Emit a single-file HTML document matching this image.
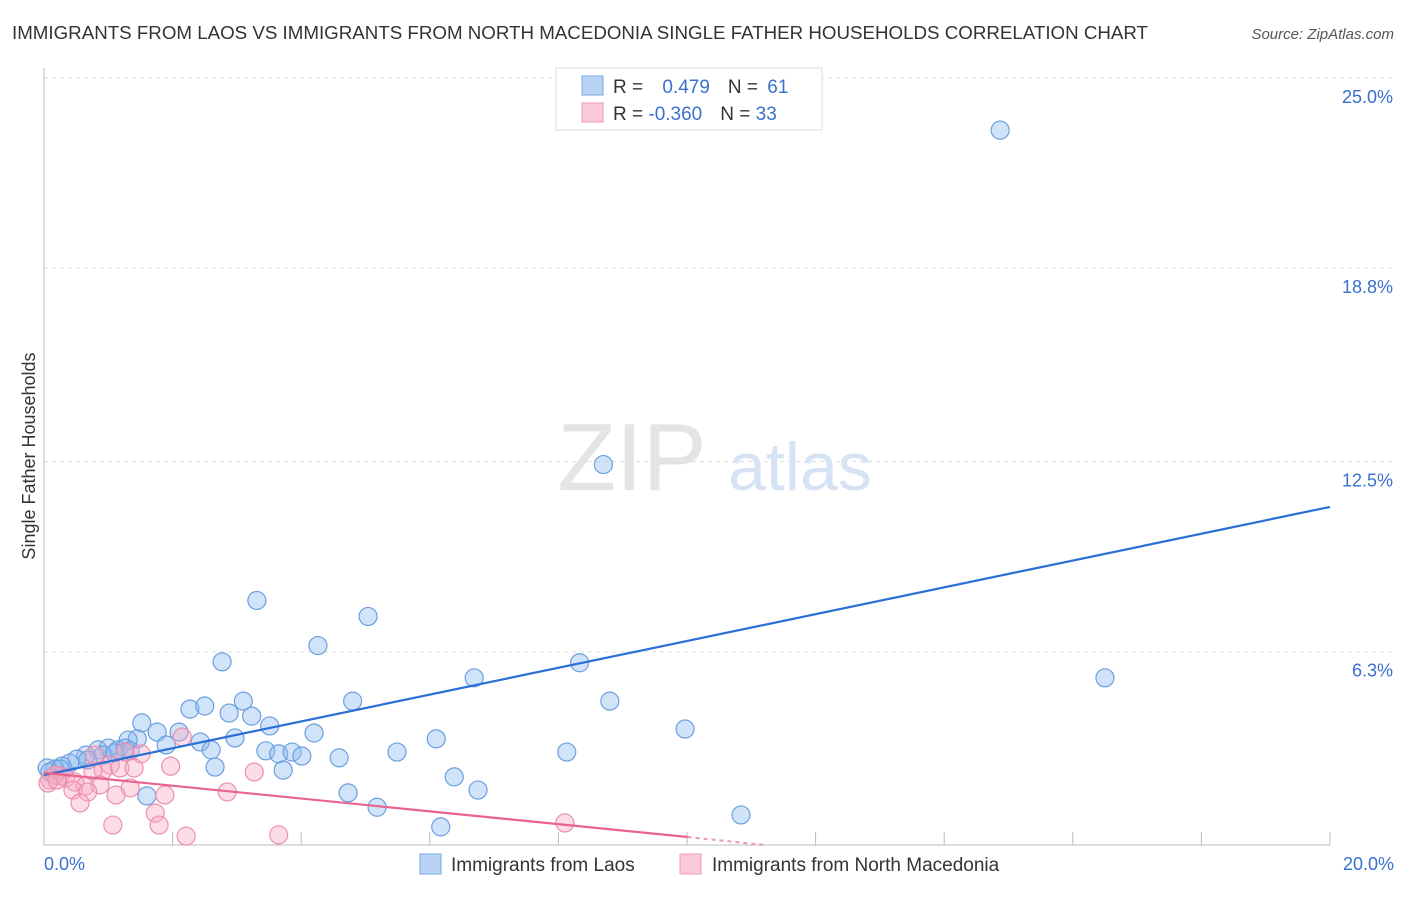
<!DOCTYPE html>
<html><head><meta charset="utf-8"><style>
body{margin:0;background:#fff;font-family:"Liberation Sans",sans-serif;}
svg text{font-family:"Liberation Sans",sans-serif;}
</style></head><body>
<svg width="1406" height="892">
<text x="12" y="39" font-size="18" fill="#333" textLength="1136" lengthAdjust="spacingAndGlyphs">IMMIGRANTS FROM LAOS VS IMMIGRANTS FROM NORTH MACEDONIA SINGLE FATHER HOUSEHOLDS CORRELATION CHART</text>
<text x="1394" y="39" font-size="15" fill="#555" font-style="italic" text-anchor="end">Source: ZipAtlas.com</text>
<g id="grid"></g>
<text x="632" y="490" font-size="96" fill="#e4e4e4" font-family="Liberation Serif" text-anchor="middle">ZIP</text>
<text x="800" y="490" font-size="68" fill="#d6e3f5" text-anchor="middle">atlas</text>
<g id="pts"></g>
<g id="lines"></g>
<text x="35" y="456" font-size="18" fill="#333" transform="rotate(-90 35 456)" text-anchor="middle">Single Father Households</text>
<text x="44" y="870" font-size="18" fill="#3a70d0">0.0%</text>
<text x="1394" y="870" font-size="18" fill="#3a70d0" text-anchor="end">20.0%</text>
<g>
<rect x="556" y="68" width="266" height="62" fill="#fff" stroke="#ddd"/>
<rect x="582" y="76" width="21" height="19" fill="#b9d3f5" stroke="#7aa7e6"/>
<rect x="582" y="103" width="21" height="19" fill="#fcc9d8" stroke="#ef9ab5"/>
<text x="613" y="93" font-size="19" fill="#333">R = <tspan fill="#3a70d0" dx="14">0.479</tspan><tspan dx="18" fill="#333">N = </tspan><tspan fill="#3a70d0" dx="4">61</tspan></text>
<text x="613" y="120" font-size="19" fill="#333">R = <tspan fill="#3a70d0" dx="0">-0.360</tspan><tspan dx="18" fill="#333">N = </tspan><tspan fill="#3a70d0">33</tspan></text>
</g>
<g>
<rect x="420" y="854" width="21" height="20" fill="#b9d3f5" stroke="#7aa7e6"/>
<text x="451" y="871" font-size="19" fill="#333">Immigrants from Laos</text>
<rect x="680" y="854" width="21" height="20" fill="#fcc9d8" stroke="#ef9ab5"/>
<text x="712" y="871" font-size="19" fill="#333">Immigrants from North Macedonia</text>
</g>
</svg>
<script>
const yTicks=[25,18.8,12.5,6.3];
const yTickLabels=["25.0%","18.8%","12.5%","6.3%"];
const blueX=[14.87,8.7,3.31,5.04,4.26,2.77,8.33,6.69,16.5,3.1,4.8,8.8,2.27,2.5,2.88,3.23,1.52,9.97,1.76,2.1,3.51,4.2,6.1,2.97,1.45,1.31,1.9,2.43,2.6,3.45,3.65,3.86,4.01,4.59,5.49,8.13,0.84,1.0,1.15,1.26,0.65,0.51,0.4,0.28,0.17,0.05,2.66,3.72,6.38,6.75,4.73,1.6,5.18,6.17,10.84,0.09,0.25,0.92,0.68,1.34,1.1];
const blueY=[23.3,12.4,7.97,7.45,6.5,5.97,5.94,5.45,5.45,4.69,4.69,4.69,4.43,4.53,4.3,4.2,3.98,3.78,3.68,3.68,3.88,3.65,3.46,3.49,3.46,3.42,3.26,3.36,3.1,3.07,2.97,3.03,2.9,2.84,3.03,3.03,3.1,3.16,3.1,3.16,2.93,2.8,2.67,2.57,2.48,2.51,2.54,2.44,2.22,1.79,1.7,1.6,1.23,0.59,0.98,2.38,2.48,2.93,2.77,3.07,3.0];
const pinkX=[2.15,1.51,0.79,1.26,1.03,0.92,1.97,1.18,1.4,0.76,3.27,0.25,0.34,0.48,0.09,0.17,0.64,0.87,1.34,0.45,0.68,1.12,1.88,2.85,0.56,1.73,1.07,1.79,2.21,3.65,8.1,0.06,0.2];
const pinkY=[3.52,2.97,2.93,3.03,2.61,2.44,2.57,2.51,2.51,2.41,2.38,2.25,2.18,2.05,2.12,2.28,1.92,1.96,1.86,1.79,1.73,1.63,1.63,1.73,1.37,1.04,0.65,0.65,0.29,0.33,0.72,2.02,2.12];
const blueLine=[[0,2.28],[20,11.02]];
const pinkLine=[[0,2.35],[10.01,0.26]];
const pinkDash=[[10.01,0.26],[11.2,0]];
const sx=v=>44+v/20*1286, sy=v=>845-v/25*767;
const NS="http://www.w3.org/2000/svg";
function mk(t,a,p){const e=document.createElementNS(NS,t);for(const k in a)e.setAttribute(k,a[k]);p.appendChild(e);return e;}
const g=document.getElementById('grid');
yTicks.forEach((t,i)=>{
 const l=mk('line',{x1:44,x2:1394,y1:sy(t),y2:sy(t),stroke:'#ddd','stroke-dasharray':'4,4'},g);
 
 
 const tx=mk('text',{x:1393,y:sy(t)+25,'font-size':18,fill:'#3a70d0','text-anchor':'end'},g);
 tx.textContent=yTickLabels[i];
 
 
});
const ax=mk('path',{d:'M44 68 V845 H1330',stroke:'#bbb',fill:'none'},g);


for(let i=1;i<=10;i++){
 const t=mk('line',{x1:sx(i*2),x2:sx(i*2),y1:832,y2:845,stroke:'#bbb'},g);
 
 
}
const p=document.getElementById('pts');
blueX.forEach((x,i)=>{
 const c=mk('circle',{cx:sx(x),cy:sy(blueY[i]),r:9,fill:'rgba(140,185,240,0.4)',stroke:'#6a9fe0','stroke-width':1.2},p);
 
 
});
pinkX.forEach((x,i)=>{
 const c=mk('circle',{cx:sx(x),cy:sy(pinkY[i]),r:9,fill:'rgba(248,170,195,0.4)',stroke:'#ec8fae','stroke-width':1.2},p);
 
 
});
const L=document.getElementById('lines');
function ln(a,st,dash,name){const e=mk('line',{x1:sx(a[0][0]),y1:sy(a[0][1]),x2:sx(a[1][0]),y2:sy(a[1][1]),stroke:st,'stroke-width':2.2},L);if(dash)e.setAttribute('stroke-dasharray',dash);
 
 }
ln(blueLine,'#2a6fd6',null,'laos-trend-line');
ln(pinkLine,'#e8638e',null,'macedonia-trend-line');
ln(pinkDash,'#e8a0b8','4,4','macedonia-trend-extension');
</script>
</body></html>
